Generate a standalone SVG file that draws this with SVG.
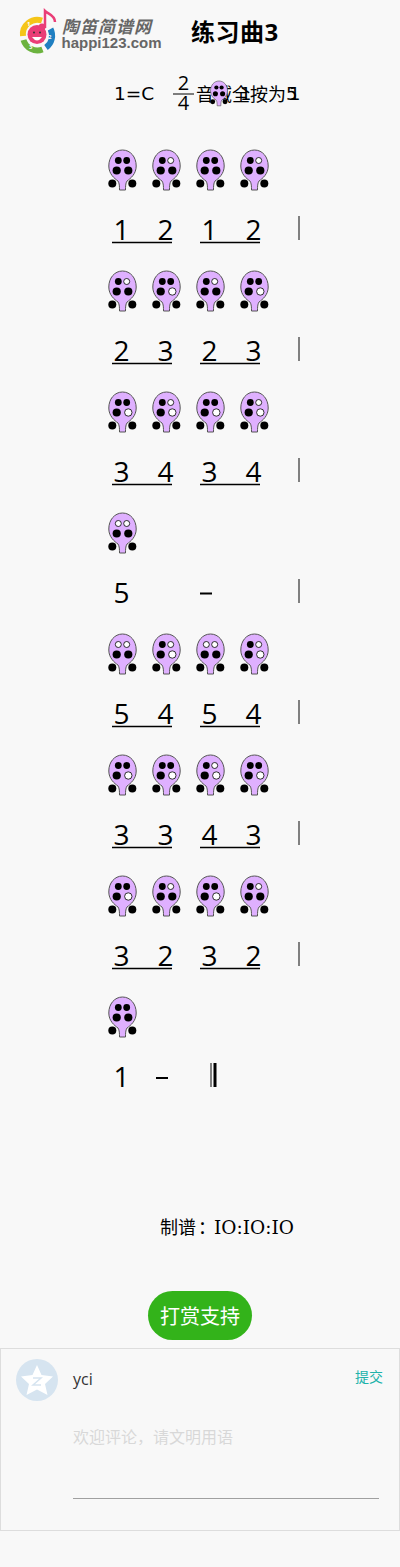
<svg xmlns="http://www.w3.org/2000/svg" width="400" height="1567" viewBox="0 0 400 1567">
<style>
text{font-family:"Open Sans","Noto Sans CJK SC",sans-serif;fill:#000}
.n{font-size:28px;text-anchor:middle}
.u{stroke:#000;stroke-width:1.3;fill:none}
.b{stroke:#808080;stroke-width:2;fill:none}
.d{stroke:#000;stroke-width:2;fill:none}
.body{fill:#dfb0ff;stroke:#555;stroke-width:1}
.c{fill:#000}
.o{fill:#fff;stroke:#000;stroke-width:.8}
.k{font-size:20px}
.v{font-family:"DejaVu Sans",sans-serif;font-size:18px}
.r{font-size:6px;font-weight:700;fill:#fff}
</style>
<defs>
<g id="oc">
<path class="body" d="M0 0C-8 0-13.700 7-13.700 16C-13.700 24-8 28.500-4.500 31C-3 33-3 37-3 40L3 40C3 37 3 33 4.500 31C8 28.500 13.700 24 13.700 16C13.700 7 8 0 0 0Z"/>
<circle class="c" cx="-10.200" cy="33.500" r="4"/><circle class="c" cx="9.800" cy="33.500" r="4"/>
</g>
<g id="f1"><use href="#oc"/><circle class="c" cx="-4.200" cy="10.500" r="3.400"/><circle class="c" cx="4.200" cy="10.500" r="3.400"/><circle class="c" cx="-5.800" cy="20.500" r="4.100"/><circle class="c" cx="5.800" cy="20.500" r="4.100"/></g>
<g id="f2"><use href="#oc"/><circle class="c" cx="-4.200" cy="10.500" r="3.400"/><circle class="o" cx="4.200" cy="10.500" r="3"/><circle class="c" cx="-5.800" cy="20.500" r="4.100"/><circle class="c" cx="5.800" cy="20.500" r="4.100"/></g>
<g id="f3"><use href="#oc"/><circle class="c" cx="-4.200" cy="10.500" r="3.400"/><circle class="c" cx="4.200" cy="10.500" r="3.400"/><circle class="c" cx="-5.800" cy="20.500" r="4.100"/><circle class="o" cx="5.800" cy="20.500" r="3.700"/></g>
<g id="f4"><use href="#oc"/><circle class="c" cx="-4.200" cy="10.500" r="3.400"/><circle class="o" cx="4.200" cy="10.500" r="3"/><circle class="c" cx="-5.800" cy="20.500" r="4.100"/><circle class="o" cx="5.800" cy="20.500" r="3.700"/></g>
<g id="f5"><use href="#oc"/><circle class="o" cx="-4.200" cy="10.500" r="3"/><circle class="o" cx="4.200" cy="10.500" r="3"/><circle class="c" cx="-5.800" cy="20.500" r="4.100"/><circle class="c" cx="5.800" cy="20.500" r="4.100"/></g>
</defs>
<rect width="400" height="1567" fill="#f8f8f8"/>
<g id="logo">
<path d="M23 36A14.500 14.500 0 0 1 42 20.500" fill="none" stroke="#f5c518" stroke-width="6"/>
<path d="M23.500 40A14.500 14.500 0 0 0 42.500 49.500" fill="none" stroke="#6cb33f" stroke-width="6"/>
<path d="M46 47.500A14.500 14.500 0 0 0 50.500 29" fill="none" stroke="#1f7fc1" stroke-width="6"/>
<circle cx="37" cy="34.500" r="9.500" fill="#ea3d77"/>
<path d="M32 37Q37 44 42 37Z" fill="#fff"/>
<circle cx="34" cy="32.500" r="1" fill="#333"/><circle cx="40" cy="32.500" r="1" fill="#333"/>
<path d="M45 28V11C48 14 55 15 55 22" fill="none" stroke="#ea3d77" stroke-width="2.500"/>
<circle cx="42" cy="27" r="3.500" fill="#ea3d77"/>
<text class="r" x="27" y="26">1</text><text class="r" x="48" y="39">2</text><text class="r" x="29" y="49">3</text>
<text x="62" y="33" font-size="17" font-weight="700" font-style="italic" style="fill:#666;letter-spacing:1px">陶笛简谱网</text>
<text x="61.500" y="48" font-size="15" font-weight="700" style="fill:#666;font-family:'Liberation Sans',sans-serif">happi123.com</text>
</g>
<g id="title"><text x="191" y="41" font-size="24" font-weight="700" style="letter-spacing:.5px">练习曲3</text></g>
<g id="key">
<text class="v" x="114" y="100" style="font-size:18.500px">1=C</text>
<text class="k" x="183.500" y="90" text-anchor="middle">2</text>
<line x1="173" y1="94" x2="194" y2="94" stroke="#000" stroke-width="1"/>
<text class="k" x="183.500" y="110" text-anchor="middle">4</text>
<text x="196" y="101" font-size="18">音域全按为</text>
<text class="v" x="240" y="100">1</text>
<text class="v" x="286" y="100">5</text>
<text class="v" x="289" y="100">1</text>
<use href="#f1" transform="translate(219 81) scale(.62)"/>
</g>
<g id="row1">
<use href="#f1" transform="translate(122.500 150)"/><use href="#f2" transform="translate(166.500 150)"/><use href="#f1" transform="translate(210.500 150)"/><use href="#f2" transform="translate(254.500 150)"/>
<text class="n" x="121.500" y="240">1</text><text class="n" x="165.500" y="240">2</text><text class="n" x="209.500" y="240">1</text><text class="n" x="253.500" y="240">2</text>
<path class="u" d="M112 242.500H172M200 242.500H260"/><path class="b" d="M299 216V240"/>
</g>
<g id="row2">
<use href="#f2" transform="translate(122.500 271)"/><use href="#f3" transform="translate(166.500 271)"/><use href="#f2" transform="translate(210.500 271)"/><use href="#f3" transform="translate(254.500 271)"/>
<text class="n" x="121.500" y="361">2</text><text class="n" x="165.500" y="361">3</text><text class="n" x="209.500" y="361">2</text><text class="n" x="253.500" y="361">3</text>
<path class="u" d="M112 363.500H172M200 363.500H260"/><path class="b" d="M299 337V361"/>
</g>
<g id="row3">
<use href="#f3" transform="translate(122.500 392)"/><use href="#f4" transform="translate(166.500 392)"/><use href="#f3" transform="translate(210.500 392)"/><use href="#f4" transform="translate(254.500 392)"/>
<text class="n" x="121.500" y="482">3</text><text class="n" x="165.500" y="482">4</text><text class="n" x="209.500" y="482">3</text><text class="n" x="253.500" y="482">4</text>
<path class="u" d="M112 484.500H172M200 484.500H260"/><path class="b" d="M299 458V482"/>
</g>
<g id="row4">
<use href="#f5" transform="translate(122.500 513)"/>
<text class="n" x="121.500" y="603">5</text>
<path class="d" d="M200 593.500H212"/><path class="b" d="M299 579V603"/>
</g>
<g id="row5">
<use href="#f5" transform="translate(122.500 634)"/><use href="#f4" transform="translate(166.500 634)"/><use href="#f5" transform="translate(210.500 634)"/><use href="#f4" transform="translate(254.500 634)"/>
<text class="n" x="121.500" y="724">5</text><text class="n" x="165.500" y="724">4</text><text class="n" x="209.500" y="724">5</text><text class="n" x="253.500" y="724">4</text>
<path class="u" d="M112 726.500H172M200 726.500H260"/><path class="b" d="M299 700V724"/>
</g>
<g id="row6">
<use href="#f3" transform="translate(122.500 755)"/><use href="#f3" transform="translate(166.500 755)"/><use href="#f4" transform="translate(210.500 755)"/><use href="#f3" transform="translate(254.500 755)"/>
<text class="n" x="121.500" y="845">3</text><text class="n" x="165.500" y="845">3</text><text class="n" x="209.500" y="845">4</text><text class="n" x="253.500" y="845">3</text>
<path class="u" d="M112 847.500H172M200 847.500H260"/><path class="b" d="M299 821V845"/>
</g>
<g id="row7">
<use href="#f3" transform="translate(122.500 876)"/><use href="#f2" transform="translate(166.500 876)"/><use href="#f3" transform="translate(210.500 876)"/><use href="#f2" transform="translate(254.500 876)"/>
<text class="n" x="121.500" y="966">3</text><text class="n" x="165.500" y="966">2</text><text class="n" x="209.500" y="966">3</text><text class="n" x="253.500" y="966">2</text>
<path class="u" d="M112 968.500H172M200 968.500H260"/><path class="b" d="M299 942V966"/>
</g>
<g id="row8">
<use href="#f1" transform="translate(122.500 997)"/>
<text class="n" x="121.500" y="1087">1</text>
<path class="d" d="M156 1078H168"/><path class="b" d="M211 1063V1087"/><path d="M215 1063V1087" stroke="#000" stroke-width="3" fill="none"/>
</g>
<g id="credit"><text y="1234" font-size="18"><tspan x="160">制谱</tspan><tspan x="198">：</tspan><tspan x="214" style="font-family:'DejaVu Serif',serif;font-size:18.500px">IO:IO:IO</tspan></text></g>
<g id="reward"><rect x="148" y="1291" width="104" height="49" rx="24.500" fill="#33b31a"/><text x="200" y="1324" font-size="20" text-anchor="middle" style="fill:#fff">打赏支持</text></g>
<g id="comment">
<rect x=".5" y="1348.500" width="399" height="182" fill="#f8f8f8" stroke="#ddd"/>
<circle cx="37" cy="1380" r="21" fill="#d6e4f0"/>
<path d="M37 1365L41.500 1375L53 1376.500L45 1384L47.500 1395L37 1389.500L26.500 1395L29 1384L21 1376.500L32.500 1375Z" fill="#fff"/>
<path d="M33 1378H41L33 1385H41" fill="none" stroke="#d6e4f0" stroke-width="1.500"/>
<text x="73" y="1385" font-size="16" style="fill:#333">yci</text>
<text x="355" y="1382" font-size="14" style="fill:#20b2aa">提交</text>
<text x="73" y="1443" font-size="16" style="fill:#d8d8d8">欢迎评论，请文明用语</text>
<line x1="73" y1="1498.500" x2="379" y2="1498.500" stroke="#a0a0a0"/>
</g>
</svg>
